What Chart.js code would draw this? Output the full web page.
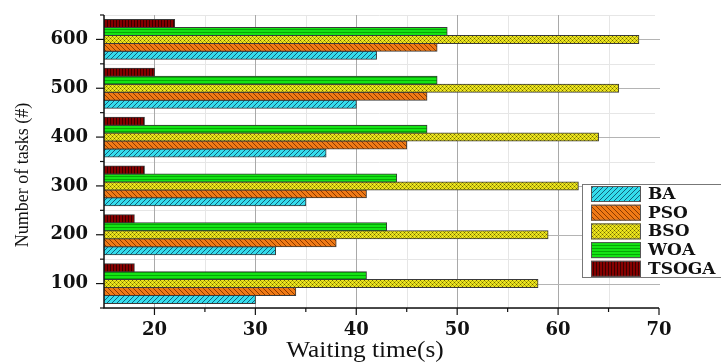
<!DOCTYPE html>
<html>
<head>
<meta charset="utf-8">
<script src="https://cdn.jsdelivr.net/npm/chart.js@4"></script>
<style>
    body { margin: 0; background: #fff; }
    canvas { display: block; }
</style>
</head>
<body>
<canvas id="waitChart" width="721" height="363"></canvas>
<script>
// values
const taskLabels = ['600', '500', '400', '300', '200', '100'];
const baValues = [42, 40, 37, 35, 32, 30];
const psoValues = [48, 47, 45, 41, 38, 34];
const bsoValues = [68, 66, 64, 62, 59, 58];
const woaValues = [49, 48, 47, 44, 43, 41];
const tsogaValues = [22, 20, 19, 19, 18, 18];
const xTickValues = [20, 30, 40, 50, 60, 70];
const xMinorValues = [25, 35, 45, 55, 65];

function makePattern(bg, fg, kind) {
    const size = kind === 'mesh' ? 4 : (kind === 'hline' || kind === 'vline' ? 3 : 5);
    const c = document.createElement('canvas');
    c.width = size;
    c.height = size;
    const g = c.getContext('2d');
    g.fillStyle = bg;
    g.fillRect(0, 0, size, size);
    g.strokeStyle = fg;
    g.fillStyle = fg;
    g.lineWidth = 1;
    if (kind === 'fwd') {
        g.beginPath();
        g.moveTo(0, size); g.lineTo(size, 0);
        g.moveTo(-1, 1); g.lineTo(1, -1);
        g.moveTo(size - 1, size + 1); g.lineTo(size + 1, size - 1);
        g.stroke();
    } else if (kind === 'back') {
        g.beginPath();
        g.moveTo(0, 0); g.lineTo(size, size);
        g.moveTo(size - 1, -1); g.lineTo(size + 1, 1);
        g.moveTo(-1, size - 1); g.lineTo(1, size + 1);
        g.stroke();
    } else if (kind === 'mesh') {
        g.fillRect(0, 0, 1, 1);
        g.fillRect(2, 2, 1, 1);
        g.globalAlpha = 0.45;
        g.fillRect(1, 1, 1, 1);
        g.fillRect(3, 3, 1, 1);
        g.fillRect(1, 3, 1, 1);
        g.fillRect(3, 1, 1, 1);
    } else if (kind === 'hline') {
        g.fillRect(0, 2, size, 1);
    } else if (kind === 'vline') {
        g.fillRect(2, 0, 1, size);
    }
    const ctx = document.getElementById('waitChart').getContext('2d');
    return ctx.createPattern(c, 'repeat');
}

const series = [
    { label: 'TSOGA', data: tsogaValues, fill: makePattern('#860000', '#3a0000', 'vline') },
    { label: 'WOA', data: woaValues, fill: makePattern('#14e414', '#05a805', 'hline') },
    { label: 'BSO', data: bsoValues, fill: makePattern('#ece41c', '#6c6600', 'mesh') },
    { label: 'PSO', data: psoValues, fill: makePattern('#f07a16', '#8a3a00', 'back') },
    { label: 'BA', data: baValues, fill: makePattern('#34dcec', '#14607a', 'fwd') }
];

const serifBold = "'DejaVu Serif', 'Liberation Serif', serif";

// grid lines behind the bars
const gridPlugin = {
    id: 'gridPlugin',
    beforeDatasetsDraw(chart) {
        const { ctx, chartArea: a, scales } = chart;
        const x = scales.x, y = scales.y;
        ctx.save();
        ctx.lineWidth = 1;
        ctx.strokeStyle = '#e6e6e6';
        xMinorValues.forEach(v => {
            const px = Math.round(x.getPixelForValue(v)) + 0.5;
            ctx.beginPath(); ctx.moveTo(px, a.top); ctx.lineTo(px, a.bottom); ctx.stroke();
        });
        const step = y.getPixelForValue(1) - y.getPixelForValue(0);
        for (let i = 0; i <= taskLabels.length; i++) {
            const py = Math.round(y.getPixelForValue(i) - step / 2) + 0.5;
            ctx.beginPath(); ctx.moveTo(a.left, py); ctx.lineTo(a.right - 4, py); ctx.stroke();
        }
        ctx.strokeStyle = '#a9a9a9';
        xTickValues.slice(0, -1).forEach(v => {
            const px = Math.round(x.getPixelForValue(v)) + 0.5;
            ctx.beginPath(); ctx.moveTo(px, a.top); ctx.lineTo(px, a.bottom); ctx.stroke();
        });
        ctx.strokeStyle = '#b4b4b4';
        taskLabels.forEach((_, i) => {
            const py = Math.round(y.getPixelForValue(i)) + 0.5;
            ctx.beginPath(); ctx.moveTo(a.left, py); ctx.lineTo(a.right + 1, py); ctx.stroke();
        });
        ctx.restore();
    }
};

// axes, tick marks, titles and the boxed legend
const framePlugin = {
    id: 'framePlugin',
    afterDraw(chart) {
        const { ctx, chartArea: a, scales } = chart;
        const x = scales.x, y = scales.y;
        ctx.save();
        ctx.strokeStyle = '#111';
        ctx.lineWidth = 1.5;
        ctx.beginPath();
        ctx.moveTo(a.left, a.top);
        ctx.lineTo(a.left, a.bottom);
        ctx.lineTo(a.right, a.bottom);
        ctx.stroke();

        ctx.lineWidth = 1.2;
        xTickValues.forEach(v => {
            const px = x.getPixelForValue(v);
            ctx.beginPath(); ctx.moveTo(px, a.bottom); ctx.lineTo(px, a.bottom + 7); ctx.stroke();
        });
        xMinorValues.forEach(v => {
            const px = x.getPixelForValue(v);
            ctx.beginPath(); ctx.moveTo(px, a.bottom); ctx.lineTo(px, a.bottom + 4); ctx.stroke();
        });
        const step = y.getPixelForValue(1) - y.getPixelForValue(0);
        taskLabels.forEach((_, i) => {
            const py = y.getPixelForValue(i);
            ctx.beginPath(); ctx.moveTo(a.left - 8, py); ctx.lineTo(a.left, py); ctx.stroke();
        });
        for (let i = 0; i <= taskLabels.length; i++) {
            const py = y.getPixelForValue(i) - step / 2;
            ctx.beginPath(); ctx.moveTo(a.left - 4, py); ctx.lineTo(a.left, py); ctx.stroke();
        }

        // axis titles
        ctx.fillStyle = '#111';
        ctx.textAlign = 'center';
        ctx.textBaseline = 'middle';
        ctx.save();
        ctx.translate(365, 351);
        ctx.scale(1.1, 1);
        ctx.font = "23px 'Liberation Serif', serif";
        ctx.fillText('Waiting time(s)', 0, 0);
        ctx.restore();
        ctx.save();
        ctx.translate(23, 175);
        ctx.rotate(-Math.PI / 2);
        ctx.font = "18px 'Liberation Serif', serif";
        ctx.fillText('Number of tasks (#)', 0, 0);
        ctx.restore();

        // legend box
        const boxX = 582.5, boxY = 184.5;
        ctx.fillStyle = '#fff';
        ctx.fillRect(boxX, boxY, 160, 93);
        ctx.strokeStyle = '#777';
        ctx.lineWidth = 1;
        ctx.strokeRect(boxX, boxY, 160, 93);
        const legendOrder = series.slice().reverse();
        ctx.font = 'bold 17px ' + serifBold;
        ctx.textAlign = 'left';
        legendOrder.forEach((s, i) => {
            const top = 186 + i * 18.7;
            ctx.fillStyle = s.fill;
            ctx.fillRect(591, top, 50, 16);
            ctx.strokeStyle = '#555';
            ctx.strokeRect(591.5, top + 0.5, 49, 15);
            ctx.fillStyle = '#111';
            ctx.fillText(s.label, 648, top + 8.5);
        });
        ctx.restore();
    }
};

new Chart(document.getElementById('waitChart'), {
    type: 'bar',
    data: {
        labels: taskLabels,
        datasets: series.map(s => ({
            label: s.label,
            data: s.data,
            backgroundColor: s.fill,
            borderColor: '#3a3a3a',
            borderWidth: 1,
            inflateAmount: 0.5,
            categoryPercentage: 0.816,
            barPercentage: 1.0
        }))
    },
    options: {
        indexAxis: 'y',
        responsive: false,
        animation: false,
        layout: { padding: { top: 15, right: 62, left: 0, bottom: 0 } },
        plugins: {
            legend: { display: false },
            tooltip: { enabled: false }
        },
        scales: {
            x: {
                type: 'linear',
                min: 15,
                max: 70,
                afterBuildTicks: scale => {
                    scale.ticks = xTickValues.map(v => ({ value: v }));
                },
                afterFit: scale => {
                    scale.height = 55;
                    scale.paddingLeft = 0;
                    scale.paddingRight = 0;
                },
                grid: { display: false, drawTicks: false },
                border: { display: false },
                ticks: {
                    color: '#111',
                    padding: 12,
                    maxRotation: 0,
                    font: { family: serifBold, size: 18, weight: 'bold' }
                }
            },
            y: {
                afterFit: scale => {
                    scale.width = 104;
                    scale.paddingTop = 0;
                    scale.paddingBottom = 0;
                },
                grid: { display: false, drawTicks: false },
                border: { display: false },
                ticks: {
                    color: '#111',
                    padding: 16,
                    font: { family: serifBold, size: 18, weight: 'bold' }
                }
            }
        }
    },
    plugins: [gridPlugin, framePlugin]
});
</script>
</body>
</html>
